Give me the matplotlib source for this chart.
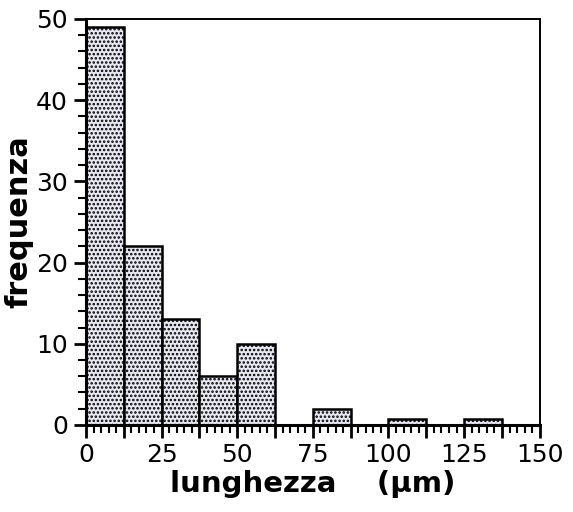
import numpy as np
import matplotlib
matplotlib.use("Agg")
import matplotlib.pyplot as plt
from matplotlib.ticker import MultipleLocator

plt.rcParams['font.family'] = ['DejaVu Sans']
plt.rcParams['hatch.linewidth'] = 1.2

# histogram bins (lunghezza, um) and frequencies
bin_edges = [0, 12.5, 25, 37.5, 50, 62.5, 75, 87.5, 100, 112.5, 125, 137.5, 150]
frequenza = [49, 22, 13, 6, 10, 0, 2, 0, 0.7, 0, 0.7, 0]
x_ticks = [0, 25, 50, 75, 100, 125, 150]
y_ticks = [0, 10, 20, 30, 40, 50]

fig = plt.figure(figsize=(5.73, 5.12), dpi=100)
ax = fig.add_axes([0.150, 0.170, 0.792, 0.793])

lefts = np.array(bin_edges[:-1])
widths = np.diff(bin_edges)
ax.bar(lefts, frequenza, width=widths, align='edge',
       facecolor='#e8e8f2', edgecolor='black', linewidth=1.8,
       hatch='....')

ax.set_xlim(0, 150)
ax.set_ylim(0, 50)

# major ticks on every bin edge, labels only every 25
ax.set_xticks(bin_edges)
ax.set_xticklabels([str(int(v)) if v in x_ticks else '' for v in bin_edges])
ax.xaxis.set_minor_locator(MultipleLocator(2.5))
ax.set_yticks(y_ticks)
ax.yaxis.set_minor_locator(MultipleLocator(2))

ax.tick_params(axis='both', which='major', direction='out', length=9,
               width=2, labelsize=18, pad=4)
ax.tick_params(axis='both', which='minor', direction='out', length=6,
               width=1.5)

for side in ['left', 'bottom']:
    ax.spines[side].set_linewidth(2.2)
for side in ['top', 'right']:
    ax.spines[side].set_linewidth(1.4)

ax.set_xlabel('lunghezza    (\u00b5m)', fontsize=21, fontweight='bold', labelpad=2)
ax.set_ylabel('frequenza', fontsize=22, fontweight='bold', labelpad=2)

fig.savefig('out.png', dpi=100)
